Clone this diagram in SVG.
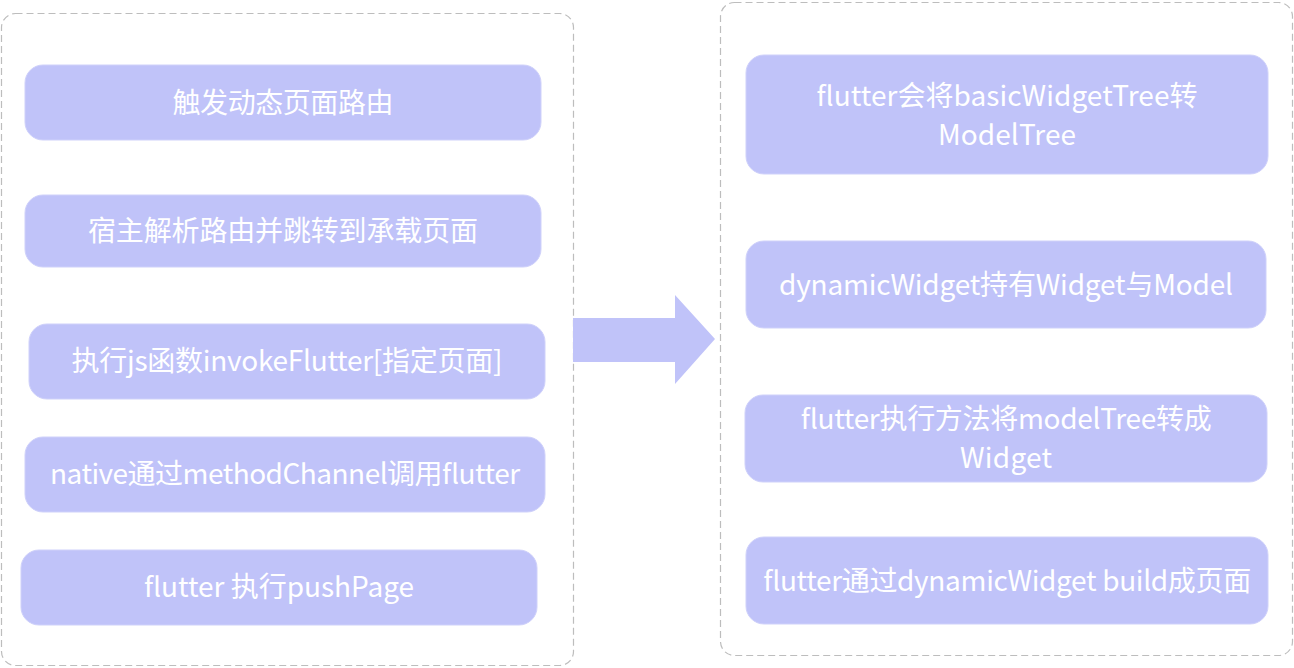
<svg xmlns="http://www.w3.org/2000/svg" width="1294" height="668" viewBox="0 0 1294 668">
<style>
.frame{fill:none;stroke:#bdbdbd;stroke-width:1.2;stroke-dasharray:7 4}
.box{fill:#c0c3f9;stroke:#cfd1fa;stroke-width:1}
.t{font-family:"Noto Sans CJK SC","Noto Sans",sans-serif;font-size:28px;fill:#ffffff;text-anchor:middle}
.arrow{fill:#c0c3f9}
</style>
<rect width="1294" height="668" fill="#ffffff"/>
<g id="left-frame"><rect class="frame" x="1.5" y="13.5" width="572" height="652" rx="14"/></g>
<g id="right-frame"><rect class="frame" x="720.5" y="2.5" width="572" height="653" rx="14"/></g>
<g id="n1"><rect class="box" x="25" y="65" width="516" height="75" rx="18"/><text class="t" x="283" y="113" textLength="221">触发动态页面路由</text></g>
<g id="n2"><rect class="box" x="25" y="195" width="516" height="72" rx="18"/><text class="t" x="283" y="241" textLength="390">宿主解析路由并跳转到承载页面</text></g>
<g id="n3"><rect class="box" x="29" y="324" width="516" height="75" rx="18"/><text class="t" x="287" y="371" textLength="431">执行js函数invokeFlutter[指定页面]</text></g>
<g id="n4"><rect class="box" x="25" y="437" width="520" height="75" rx="18"/><text class="t" x="285" y="484" textLength="470">native通过methodChannel调用flutter</text></g>
<g id="n5"><rect class="box" x="21" y="550" width="516" height="75" rx="18"/><text class="t" x="279" y="597" textLength="270">flutter 执行pushPage</text></g>
<g id="m1"><rect class="box" x="746" y="55" width="522" height="119" rx="18"/><text class="t" x="1007" y="106" textLength="381">flutter会将basicWidgetTree转</text><text class="t" x="1007" y="145" textLength="138">ModelTree</text></g>
<g id="m2"><rect class="box" x="746" y="241" width="520" height="87" rx="18"/><text class="t" x="1006" y="295" textLength="454">dynamicWidget持有Widget与Model</text></g>
<g id="m3"><rect class="box" x="745" y="395" width="522" height="87" rx="18"/><text class="t" x="1006" y="429" textLength="411">flutter执行方法将modelTree转成</text><text class="t" x="1006" y="468" textLength="92">Widget</text></g>
<g id="m4"><rect class="box" x="746" y="537" width="522" height="87" rx="18"/><text class="t" x="1007" y="591" textLength="488">flutter通过dynamicWidget build成页面</text></g>
<g id="connectors"><polygon class="arrow" points="573,318 675,318 675,295 715,339 675,384 675,362 573,362"/></g>
</svg>
